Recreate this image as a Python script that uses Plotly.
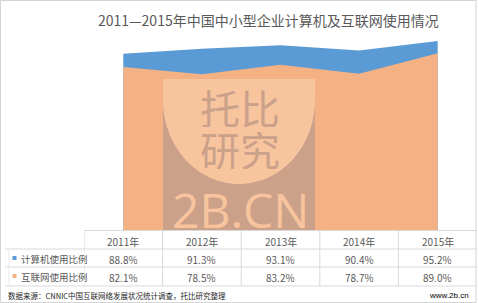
import numpy as np
import plotly.graph_objects as go

# ---- data ----
years = ["2011年", "2012年", "2013年", "2014年", "2015年"]
computer_pct = [88.8, 91.3, 93.1, 90.4, 95.2]
internet_pct = [82.1, 78.5, 83.2, 78.7, 89.0]
series_names = ["计算机使用比例", "互联网使用比例"]
title_text = "2011—2015年中国中小型企业计算机及互联网使用情况"
source_text = "数据来源：CNNIC中国互联网络发展状况统计调查，托比研究整理"
site_text = "www.2b.cn"

W, H = 478, 303
BLUE = "#5B9BD5"
ORANGE = "#F4B183"
GRID = "#D9D9D9"
TXT = "#595959"
FONT = "Noto Sans CJK SC"


def px(x):
    return x / W


def py(y):
    return 1 - y / H


fig = go.Figure()
xi = list(range(len(years)))
fig.add_trace(go.Scatter(x=xi, y=computer_pct, mode="lines", fill="tozeroy",
                         fillcolor=BLUE, line=dict(width=0, color=BLUE),
                         hoverinfo="skip", showlegend=False))
fig.add_trace(go.Scatter(x=xi, y=internet_pct, mode="lines", fill="tozeroy",
                         fillcolor=ORANGE, line=dict(width=0, color=ORANGE),
                         hoverinfo="skip", showlegend=False))

shapes = []
annotations = []


def ann(**kw):
    kw.setdefault("showarrow", False)
    kw.setdefault("xanchor", "center")
    kw.setdefault("yanchor", "middle")
    annotations.append(kw)


# ---- watermark ----
RECT_C = "#CBA18A"
LIGHT_C = "#F7C49E"
x0w, x1w, y0w, y1w = 163, 315, 79, 230
shapes.append(dict(type="rect", xref="paper", yref="paper", layer="above",
                   x0=px(x0w), x1=px(x1w), y0=py(y1w), y1=py(y0w),
                   fillcolor=RECT_C, line=dict(width=0)))
cx, cy, rx, ry = (x0w + x1w) / 2, 100, (x1w - x0w) / 2, 84
th = np.linspace(0, np.pi, 60)
pts = [(cx + rx * np.cos(t), cy + ry * np.sin(t)) for t in th]
path = f"M {px(x1w)},{py(y0w)} L {px(x1w)},{py(cy)} "
path += " ".join(f"L {px(a)},{py(b)}" for a, b in pts)
path += f" L {px(x0w)},{py(y0w)} Z"
shapes.append(dict(type="path", xref="paper", yref="paper", layer="above",
                   path=path, fillcolor=LIGHT_C, line=dict(width=0)))
ann(xref="paper", yref="paper", x=px(240), y=py(106), text="托比", height=41,
    font=dict(family=FONT, size=40, color=RECT_C))
ann(xref="paper", yref="paper", x=px(240), y=py(148), text="研究", height=41,
    font=dict(family=FONT, size=40, color=RECT_C))
ann(xref="paper", yref="paper", x=px(240), y=py(209), text="2B.CN", height=40,
    font=dict(family="Open Sans", size=48, color=LIGHT_C))

# ---- table ----
t_top, r1, r2, t_bot = 230.5, 249, 267, 286
line = dict(color=GRID, width=1)
shapes.append(dict(type="line", xref="x", yref="paper", x0=-0.5, x1=4.5,
                   y0=py(t_top), y1=py(t_top), line=line))
for yy in (r1, r2, t_bot):
    shapes.append(dict(type="line", xref="paper", yref="paper", x0=px(5), x1=px(476),
                       y0=py(yy), y1=py(yy), line=line))
for k in range(len(years)):
    shapes.append(dict(type="line", xref="x", yref="paper", x0=k - 0.5, x1=k - 0.5,
                       y0=py(t_top), y1=py(t_bot), line=line))
shapes.append(dict(type="line", xref="paper", yref="paper", x0=px(9), x1=px(9),
                   y0=py(r1), y1=py(t_bot), line=dict(color="#E8E8E8", width=1)))

row_c = [240.5, 258.5, 276.5]
for k, yr in enumerate(years):
    ann(xref="x", yref="paper", x=k, y=py(row_c[0]), text=yr, height=16,
        font=dict(family=FONT, size=10, color=TXT))
    ann(xref="x", yref="paper", x=k, y=py(row_c[1]), text=f"{computer_pct[k]:.1f}%",
        height=16, font=dict(family=FONT, size=10, color=TXT))
    ann(xref="x", yref="paper", x=k, y=py(row_c[2]), text=f"{internet_pct[k]:.1f}%",
        height=16, font=dict(family=FONT, size=10, color=TXT))
for name, col, yc in zip(series_names, [BLUE, ORANGE], row_c[1:]):
    shapes.append(dict(type="rect", xref="paper", yref="paper",
                       x0=px(12.5), x1=px(16.5), y0=py(yc + 1.5), y1=py(yc - 2.5),
                       fillcolor=col, line=dict(width=0)))
    ann(xref="paper", yref="paper", x=px(18.5), y=py(yc), text=name, xanchor="left",
        height=16, font=dict(family=FONT, size=9.5, color=TXT))

# ---- title / footer ----
ann(xref="paper", yref="paper", x=px(268), y=py(20.5), text=title_text,
    font=dict(family=FONT, size=14, color=TXT))
ann(xref="paper", yref="paper", x=px(6), y=py(295.5), text=source_text, xanchor="left",
    font=dict(family=FONT, size=7.5, color="#262626"))
ann(xref="paper", yref="paper", x=px(471), y=py(295.5), text=site_text, xanchor="right",
    font=dict(family="Liberation Sans", size=8, color="#000000"))

# frame
shapes.append(dict(type="rect", xref="paper", yref="paper", x0=px(0.5), x1=px(476),
                   y0=py(302.5), y1=py(0.5), line=dict(color="#D4D4D4", width=1)))

fig.update_layout(
    width=W, height=H, margin=dict(l=0, r=0, t=0, b=0),
    paper_bgcolor="white", plot_bgcolor="rgba(0,0,0,0)",
    xaxis=dict(domain=[px(84), px(477)], range=[-0.5, 4.5], visible=False, fixedrange=True),
    yaxis=dict(domain=[py(230), py(31.5)], range=[0, 100], visible=False, fixedrange=True),
    shapes=shapes, annotations=annotations, showlegend=False,
)

fig.write_html("out.html")
